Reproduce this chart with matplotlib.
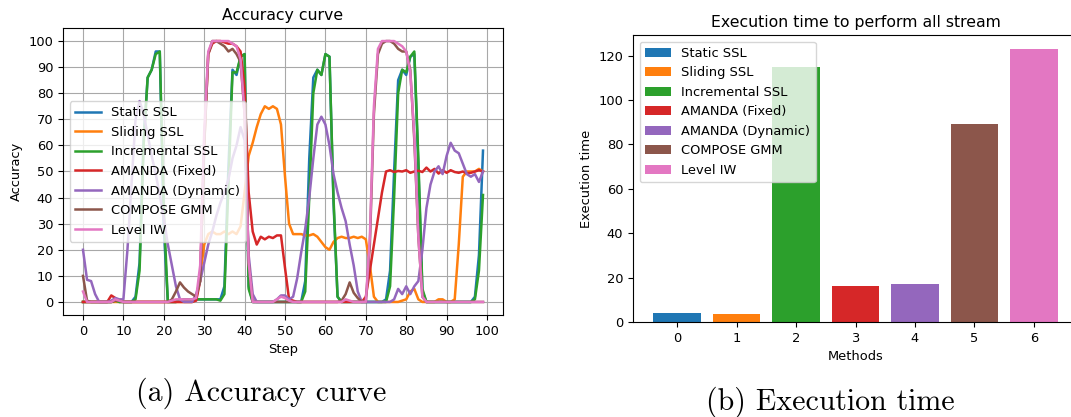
import matplotlib
matplotlib.use("Agg")
import matplotlib.pyplot as plt
import numpy as np

# methods / legend labels
methods = ["Static SSL", "Sliding SSL", "Incremental SSL", "AMANDA (Fixed)",
           "AMANDA (Dynamic)", "COMPOSE GMM", "Level IW"]

# accuracy per step, steps 0..99
static_ssl = [0, 0, 0, 0, 0, 0, 0, 0, 0.5, 0,
              0, 0, 0, 2, 15, 62, 86, 89, 96, 96,
              28, 0, 0, 0, 0.5, 1, 1, 1, 1, 1,
              1, 1, 1, 1, 1, 6, 52, 89, 87, 94,
              95, 6, 0, 0, 0, 0, 0, 0, 0, 0,
              0, 0, 0, 0, 0, 8, 55, 86, 89, 87,
              95, 94, 38, 2, 0, 0, 0, 0, 0, 0,
              0, 0, 0, 0, 0, 1, 12, 50, 85, 89,
              87, 94, 95, 52, 4, 0, 0, 0, 0, 0,
              0, 0, 0, 0, 0, 0, 0, 2, 18, 58]
sliding_ssl = [0, 0, 0, 0, 0, 0, 0, 0, 0, 0,
               0, 0, 0, 0, 0, 0, 0, 0, 0, 0,
               0, 0, 0, 0, 0, 0, 0, 0, 1, 10,
               22, 26, 27, 26, 26, 27, 26, 27, 26, 29,
               42, 56, 61, 67, 72, 75, 74, 75, 74, 68,
               48, 30, 26, 26, 26, 25.5, 25.5, 26, 25, 23,
               21, 20, 23, 24.5, 25, 24.5, 24.5, 25, 24.5, 25,
               24, 14, 2, 0, 0, 0, 0, 0, 0, 0.5,
               1, 4, 5, 1, 0, 0, 0, 0, 1, 1,
               0, 0, 1, 22, 48, 50, 50, 50, 51, 50]
incremental_ssl = [0, 0, 0, 0, 0, 0, 0, 0, 0.5, 0,
                   0, 0, 0, 1, 12, 60, 86, 89, 95, 96,
                   35, 0, 0, 0, 0.5, 1, 1, 1, 1, 1,
                   1, 1, 1, 1, 0.5, 3, 45, 88, 88, 94,
                   95, 5, 0, 0, 0, 0, 0, 0, 0, 0,
                   0, 0, 0, 0, 0, 4, 40, 80, 89, 87,
                   95, 94, 40, 2, 0, 0, 0, 0, 0, 0,
                   0, 0, 0, 0, 0, 0, 6, 40, 80, 89,
                   88, 94, 96, 55, 5, 0, 0, 0, 0, 0,
                   0, 0, 0, 0, 0, 0, 0, 1, 12, 41]
amanda_fixed = [0, 0, 0, 0, 0, 0, 0, 2.5, 1.5, 0.5,
                0, 0, 0, 0, 0, 0, 0, 0, 0, 0,
                0, 0, 0, 0, 0, 0, 0, 0, 0.5, 8,
                60, 95, 99, 100, 100, 99.5, 99, 99, 98, 96,
                82, 42, 27, 22, 25, 24, 25, 24.5, 25.5, 25.5,
                13, 1, 0.5, 0, 0, 0, 0, 0, 0, 0,
                0, 0, 0, 0, 0, 0, 0, 0, 0, 0,
                2, 12, 22, 32, 42, 50, 50.5, 49.8, 50.2, 50,
                50.5, 49.5, 50, 50.3, 49.8, 51.5, 50, 51, 49.2, 50.5,
                49.5, 50.5, 49.8, 49.5, 50, 49.3, 49.5, 50, 50.5, 50]
amanda_dynamic = [20, 8.5, 8, 3, 0, 0, 0, 0.5, 1.5, 1,
                  1, 20, 45, 70, 77, 72, 64, 56, 49, 41,
                  32, 22, 14, 6, 1, 0, 0, 0, 3, 8,
                  15, 22, 27, 33, 38, 42, 47, 55, 60, 67,
                  62, 18, 3, 0, 0, 0, 0, 0, 1, 2.5,
                  2.5, 1, 2, 9, 19, 28, 40, 55, 68, 71,
                  68, 60, 49, 42, 36, 31, 22, 14, 4, 0,
                  0, 0, 0, 0, 0, 0, 0, 1, 5, 3,
                  6, 3, 6, 8, 20, 36, 45, 50, 52, 49,
                  56, 61, 58, 57, 53, 49, 48, 49, 46, 50]
compose_gmm = [10, 0.5, 0, 0, 0, 0, 0, 0, 0.5, 0.5,
               0, 0, 0, 0, 0, 0, 0, 0, 0, 0,
               0, 0, 1, 4, 7.5, 5.5, 4, 3, 2, 8,
               60, 95, 100, 100, 99, 98, 96, 97, 95, 92,
               72, 15, 0, 0, 0, 0, 0, 0, 0, 0,
               0, 0, 0, 0, 0, 0, 0, 0, 0, 0,
               0, 0, 0, 0, 0.5, 3, 7.5, 3.5, 1.5, 0,
               0, 22, 72, 95, 99, 100, 100, 99, 97, 96,
               96, 89, 62, 25, 2, 0, 0, 0, 0, 0,
               0, 0, 0, 0, 0, 0, 0, 0, 0, 0]
level_iw = [4, 0, 0, 0, 0, 0, 0, 0, 1, 0.5,
            0, 0, 0, 0, 0, 0, 0, 0, 0, 0,
            0, 0, 0.5, 1, 1, 1, 1, 1, 1.5, 14,
            65, 96, 100, 100, 100, 100, 100, 99, 98, 93,
            72, 15, 0, 0, 0, 0, 0, 0, 1, 2,
            1.5, 0.5, 0, 0, 0, 0, 0, 0, 0, 0,
            0, 0, 0, 0, 0, 1, 0.5, 0, 0, 0,
            0, 25, 75, 97, 100, 100, 100, 100, 99, 98,
            96, 88, 64, 25, 2, 0, 0, 0, 0, 0,
            0, 0, 0, 0, 0, 0, 0, 0, 0, 0]

# execution time per method
exec_time = [4.2, 3.6, 114.7, 16.2, 17.1, 89.2, 123.1]

series = [static_ssl, sliding_ssl, incremental_ssl, amanda_fixed,
          amanda_dynamic, compose_gmm, level_iw]
colors = plt.rcParams["axes.prop_cycle"].by_key()["color"]
fs = 9.4

fig = plt.figure(figsize=(10.71, 4.17), dpi=100)
W, H = 1071.0, 417.0

# accuracy curve
ax1 = fig.add_axes([63 / W, (H - 315) / H, 440 / W, 287 / H])
steps = np.arange(len(static_ssl))
for name, vals in zip(methods, series):
    ax1.plot(steps, vals, label=name, lw=1.8)
ax1.set_xticks(range(0, 101, 10))
ax1.set_yticks(range(0, 101, 10))
ax1.grid(True, color="#a8a8a8")
ax1.tick_params(labelsize=fs)
ax1.set_xlabel("Step", fontsize=fs)
ax1.set_ylabel("Accuracy", fontsize=fs)
ax1.set_title("Accuracy curve", fontsize=11.3)
ax1.legend(loc="center left", fontsize=fs)

# execution time
ax2 = fig.add_axes([633 / W, (H - 322) / H, 445 / W, 287 / H])
for i, (name, t) in enumerate(zip(methods, exec_time)):
    ax2.bar(i, t, color=colors[i], label=name)
ax2.set_xticks(range(len(methods)))
ax2.tick_params(labelsize=fs)
ax2.set_xlabel("Methods", fontsize=fs)
ax2.set_ylabel("Execution time", fontsize=fs)
ax2.set_title("Execution time to perform all stream", fontsize=11.3)
ax2.legend(loc="upper left", fontsize=fs)

# captions
fig.text(261 / W, 1 - 393 / H, "(a) Accuracy curve", ha="center", va="center",
         fontfamily="cmr10", fontsize=21.5)
fig.text(830 / W, 1 - 402 / H, "(b) Execution time", ha="center", va="center",
         fontfamily="cmr10", fontsize=21.5)

fig.savefig("out.png", dpi=100)
